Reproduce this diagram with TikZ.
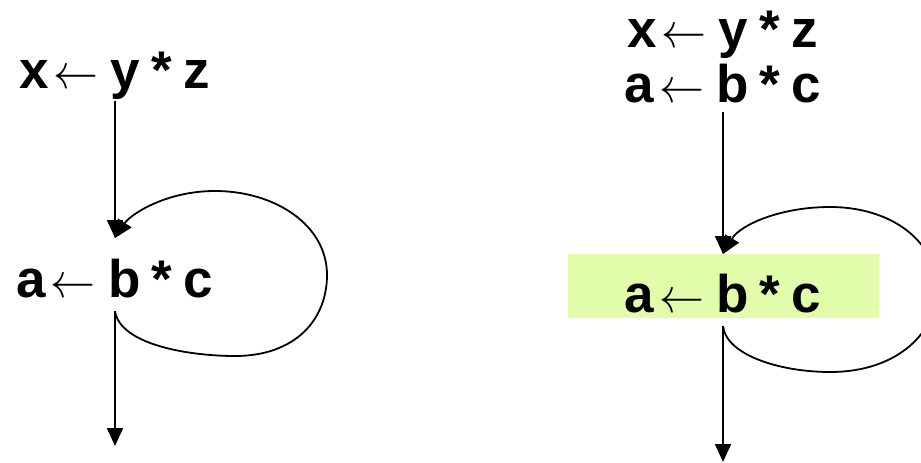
\documentclass[tikz,border=0pt]{standalone}
\usepackage{fontspec}
\setmainfont{Liberation Sans}
\usepackage{graphicx}
\usetikzlibrary{arrows.meta}
\definecolor{hl}{RGB}{225,252,170}
\tikzset{
  stmt/.style={font=\fontsize{53}{60}\selectfont\bfseries, inner sep=0pt, anchor=base},
  flow/.style={line width=1.8pt, -{Triangle[width=16pt,length=18pt]}},
  loopline/.style={line width=1.8pt, -{Triangle[width=16pt,length=18pt]}},
}
\newcommand{\la}{\hspace{5pt}\resizebox{45pt}{18pt}{$\leftarrow$}\hspace{12pt}}
\newcommand{\tm}{\hspace{11pt}*\hspace{12pt}}
\begin{document}
\begin{tikzpicture}[x=1pt,y=-1pt]
\useasboundingbox (0,0) rectangle (921,463);
\clip (0,0) rectangle (921,463);
% left
\node[stmt] (lt) at (115,88) {x\la y\tm z};
\node[stmt] (lm) at (115,297) {a\la b\tm c};
\coordinate (ltout) at (115,101);
\coordinate (lmin) at (115,238);
\coordinate (lmout) at (115,311);
\coordinate (lend) at (115,446);
\draw[flow] (ltout) -- (lmin);
\draw[flow] (lmout) -- (lend);
\draw[loopline] (lmout) .. controls (120,345) and (190,356) .. (235,356)
  .. controls (295,356) and (327,320) .. (327,275)
  .. controls (327,225) and (275,191) .. (215,191)
  .. controls (165,191) and (130,215) .. (lmin);
% right
\node[stmt] (rt1) at (723,47) {x\la y\tm z};
\node[stmt] (rt2) at (723,102) {a\la b\tm c};
\fill[hl] (568,254) rectangle (879,318);
\node[stmt] (rm) at (723,312) {a\la b\tm c};
\coordinate (rtout) at (723,112);
\coordinate (rmin) at (723,254);
\coordinate (rmout) at (723,326);
\coordinate (rend) at (723,462);
\draw[flow] (rtout) -- (rmin);
\draw[flow] (rmout) -- (rend);
\draw[loopline] (rmout) .. controls (726,355) and (780,372) .. (830,372)
  .. controls (900,372) and (937,330) .. (937,290)
  .. controls (937,240) and (890,207) .. (830,207)
  .. controls (780,207) and (740,225) .. (rmin);
\end{tikzpicture}
\end{document}
